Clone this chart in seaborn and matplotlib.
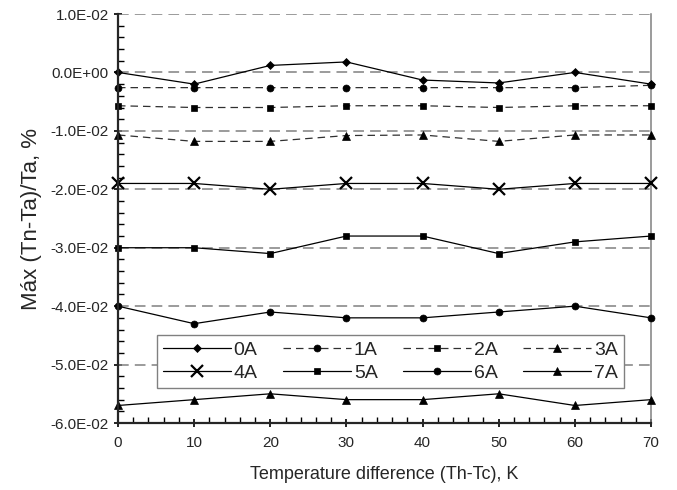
import numpy as np
import pandas as pd
import seaborn as sns
import matplotlib
matplotlib.use('Agg')
import matplotlib.pyplot as plt
from matplotlib.ticker import MultipleLocator, FuncFormatter

# temperature difference (Th-Tc), K
dT = [0, 10, 20, 30, 40, 50, 60, 70]

# max (Tn-Ta)/Ta per current
s_0A = [0.0, -0.0020, 0.0012, 0.0018, -0.0013, -0.0018, 0.0, -0.0020]
s_1A = [-0.0026, -0.0026, -0.0026, -0.0026, -0.0026, -0.0026, -0.0026, -0.0022]
s_2A = [-0.0057, -0.0060, -0.0060, -0.0057, -0.0057, -0.0060, -0.0057, -0.0057]
s_3A = [-0.0107, -0.0118, -0.0118, -0.0108, -0.0107, -0.0118, -0.0107, -0.0107]
s_4A = [-0.0190, -0.0190, -0.0200, -0.0190, -0.0190, -0.0200, -0.0190, -0.0190]
s_5A = [-0.0300, -0.0300, -0.0310, -0.0280, -0.0280, -0.0310, -0.0290, -0.0280]
s_6A = [-0.0400, -0.0430, -0.0410, -0.0420, -0.0420, -0.0410, -0.0400, -0.0420]
s_7A = [-0.0570, -0.0560, -0.0550, -0.0560, -0.0560, -0.0550, -0.0570, -0.0560]

labels = ['0A', '1A', '2A', '3A', '4A', '5A', '6A', '7A']
series = [s_0A, s_1A, s_2A, s_3A, s_4A, s_5A, s_6A, s_7A]

# style per series: marker, marker size, dashed?
styles = {
    '0A': ('D', 4, False),
    '1A': ('o', 5, True),
    '2A': ('s', 5, True),
    '3A': ('^', 6, True),
    '4A': ('x', 8, False),
    '5A': ('s', 5, False),
    '6A': ('o', 5, False),
    '7A': ('^', 6, False),
}

rows = []
for lab, vals in zip(labels, series):
    for x, v in zip(dT, vals):
        rows.append({'dT': x, 'val': v, 'serie': lab})
df = pd.DataFrame(rows)

sns.set_style('ticks')
plt.rcParams['font.family'] = ['Liberation Sans', 'DejaVu Sans']

fig = plt.figure(figsize=(6.77, 4.9), dpi=100)
ax = fig.add_axes([0.1743, 0.1367, 0.7873, 0.8347])

# dashed grey reference lines at the major ticks
for yv in np.arange(-0.05, 0.0101, 0.01):
    ax.axhline(yv, color='#808080', lw=1.1, ls=(0, (7, 4)), zorder=1)

for lab in labels:
    mk, ms, dashed = styles[lab]
    d = df[df['serie'] == lab]
    col = '#303030' if dashed else 'black'
    sns.lineplot(data=d, x='dT', y='val', ax=ax, color=col, lw=0.9,
                 marker=mk, markersize=ms, markeredgecolor='black',
                 markerfacecolor='black', markeredgewidth=1.6 if mk == 'x' else 0.5,
                 label=lab, zorder=3, clip_on=False)
    if dashed:
        ax.lines[-1].set_linestyle((0, (6, 4)))

ax.set_xlim(0, 70)
ax.set_ylim(-0.06, 0.01)
ax.xaxis.set_major_locator(MultipleLocator(10))
ax.xaxis.set_minor_locator(MultipleLocator(2))
ax.yaxis.set_major_locator(MultipleLocator(0.01))
ax.yaxis.set_minor_locator(MultipleLocator(0.002))


def sci(v, pos):
    v = round(v, 6)
    if v == 0:
        return '0.0E+00'
    return '%.1E' % v


ax.yaxis.set_major_formatter(FuncFormatter(sci))
ax.tick_params(axis='both', which='major', direction='inout', length=6, width=1.2,
               labelsize=11, color='black')
ax.tick_params(axis='both', which='minor', direction='in', length=4, width=1.0,
               color='black')
ax.tick_params(axis='x', pad=6)

ax.spines['top'].set_visible(False)
ax.spines['right'].set_color('#808080')
ax.spines['right'].set_linewidth(1.1)
ax.spines['left'].set_linewidth(1.6)
ax.spines['bottom'].set_linewidth(1.6)
ax.spines['left'].set_zorder(4)
ax.spines['bottom'].set_zorder(4)

ax.set_xlabel('Temperature difference (Th-Tc), K', fontsize=13, labelpad=12)
ax.set_ylabel('Máx (Tn-Ta)/Ta, %', fontsize=16, labelpad=6)

h, l = ax.get_legend_handles_labels()
order = [0, 4, 1, 5, 2, 6, 3, 7]
leg = ax.legend([h[i] for i in order], [l[i] for i in order], ncol=4,
                loc='lower left', bbox_to_anchor=(0.073, 0.086), borderaxespad=0,
                fontsize=14, handlelength=3.5, handletextpad=0.15, columnspacing=1.3,
                frameon=True, fancybox=False, edgecolor='#808080',
                framealpha=1, borderpad=0.3, labelspacing=0.3)
leg.get_frame().set_linewidth(1.0)
leg.set_zorder(5)

fig.savefig('out.png', dpi=100)
